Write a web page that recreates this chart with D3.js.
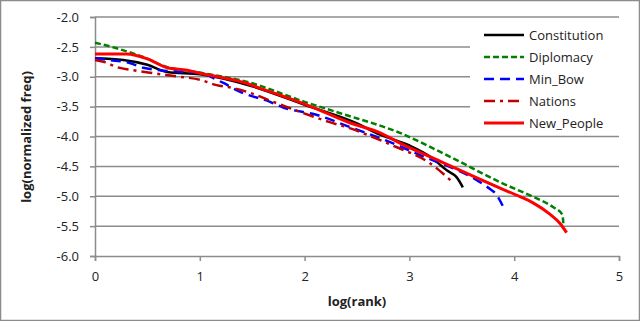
<!DOCTYPE html>
<html><head><meta charset="utf-8">
<script src="https://cdn.jsdelivr.net/npm/d3@7"></script>
<style>html,body{margin:0;padding:0;background:#fff}svg{display:block}</style>
</head><body>
<svg id="chart" width="640" height="321"></svg>
<script>
const seriesNames = ["Constitution","Diplomacy","Min_Bow","Nations","New_People"];
const constitutionX = [0,0.27,0.5,0.69,1.0,1.5,2.0,2.5,2.72,3.0,3.2,3.36,3.45,3.51];
const constitutionY = [-2.69,-2.72,-2.80,-2.92,-2.96,-3.16,-3.47,-3.78,-3.97,-4.15,-4.34,-4.57,-4.68,-4.85];
const diplomacyX = [0,0.2,0.46,0.69,1.0,1.48,2.0,2.34,2.91,3.4,3.86,4.18,4.37,4.46,4.47];
const diplomacyY = [-2.43,-2.52,-2.67,-2.84,-2.93,-3.10,-3.42,-3.61,-3.94,-4.35,-4.76,-5.01,-5.18,-5.31,-5.48];
const minBowX = [0,0.14,0.33,0.46,0.62,0.84,1.0,1.22,1.38,1.67,1.79,2.12,2.43,2.81,3.10,3.67,3.77,3.82,3.89];
const minBowY = [-2.69,-2.72,-2.77,-2.85,-2.89,-2.92,-2.94,-3.10,-3.25,-3.42,-3.51,-3.64,-3.84,-4.09,-4.31,-4.76,-4.88,-4.95,-5.16];
const nationsX = [0,0.1,0.21,0.36,0.55,0.81,1.0,1.16,1.32,1.48,1.70,1.96,2.24,2.43,2.65,2.88,3.19,3.41];
const nationsY = [-2.72,-2.76,-2.84,-2.89,-2.94,-3.00,-3.05,-3.14,-3.19,-3.27,-3.42,-3.59,-3.76,-3.86,-4.01,-4.18,-4.44,-4.76];
const newPeopleX = [0,0.3,0.5,0.69,0.88,1.0,1.2,1.43,1.57,1.67,2.02,2.43,2.72,2.91,3.3,3.86,4.06,4.18,4.34,4.44,4.50];
const newPeopleY = [-2.62,-2.62,-2.70,-2.85,-2.89,-2.94,-3.01,-3.10,-3.19,-3.25,-3.47,-3.77,-3.94,-4.11,-4.42,-4.86,-5.01,-5.11,-5.30,-5.46,-5.61];
const xTicks = [0,1,2,3,4,5];
const yTicks = [-2.0,-2.5,-3.0,-3.5,-4.0,-4.5,-5.0,-5.5,-6.0];

const seriesX = [constitutionX, diplomacyX, minBowX, nationsX, newPeopleX];
const seriesY = [constitutionY, diplomacyY, minBowY, nationsY, newPeopleY];
const colors = ["#000000","#008000","#0000FF","#C00000","#FF0000"];
const dashes = [null,"6,3","10,6","11,5,3,5",null];
const widths = [2.5,2.5,2.5,2.5,3];

const svg = d3.select("#chart");
const font = "'Open Sans', 'Liberation Sans', Arial, sans-serif";
svg.append("rect").attr("x",0.5).attr("y",0.5).attr("width",639).attr("height",320)
  .attr("fill","#fff").attr("stroke","#8c8c8c").attr("stroke-width",1.5);

const x = d3.scaleLinear().domain([0,5]).range([95,619]);
const y = d3.scaleLinear().domain([-6,-2]).range([256,17]);

// gridlines
svg.append("g").selectAll("line").data(yTicks.filter(t=>t!==-6)).join("line")
  .attr("x1",x(0)).attr("x2",x(5)).attr("y1",d=>y(d)).attr("y2",d=>y(d))
  .attr("stroke","#8c8c8c").attr("stroke-width",1.5);

// axes
const xAxis = svg.append("g").attr("transform",`translate(0,${y(-6)})`)
  .call(d3.axisBottom(x).tickValues(xTicks).tickFormat(d3.format("d")).tickSize(5).tickPadding(11));
const yAxis = svg.append("g").attr("transform",`translate(${x(0)},0)`)
  .call(d3.axisLeft(y).tickValues(yTicks).tickFormat(d3.format(".1f")).tickSize(5).tickPadding(11));
[xAxis,yAxis].forEach(g=>{
  g.select(".domain").attr("stroke","#8c8c8c").attr("stroke-width",1.5);
  g.selectAll(".tick line").attr("stroke","#8c8c8c").attr("stroke-width",1.5);
  g.selectAll("text").attr("font-family",font).attr("font-size",13).attr("fill","#222");
});
yAxis.selectAll("text").text(d=>d3.format(".1f")(d).replace("−","-"));

// legend background
svg.append("rect").attr("x",470).attr("y",22).attr("width",149).attr("height",110).attr("fill","#fff");

// lines
const line = d3.line().x(d=>x(d[0])).y(d=>y(d[1])).curve(d3.curveMonotoneX);
seriesNames.forEach((n,i)=>{
  const pts = seriesX[i].map((v,j)=>[v,seriesY[i][j]]);
  svg.append("path").datum(pts).attr("d",line).attr("fill","none")
    .attr("stroke",colors[i]).attr("stroke-width",widths[i])
    .attr("stroke-dasharray",dashes[i]);
});

// legend
const lg = svg.append("g");
seriesNames.forEach((n,i)=>{
  const yy = 35 + i*22;
  lg.append("line").attr("x1",484).attr("x2",524).attr("y1",yy).attr("y2",yy)
    .attr("stroke",colors[i]).attr("stroke-width",widths[i]).attr("stroke-dasharray",dashes[i]);
  lg.append("text").attr("x",529).attr("y",yy+4.5).text(n)
    .attr("font-family",font).attr("font-size",13).attr("fill","#222");
});

// titles
svg.append("text").attr("x",357).attr("y",306).attr("text-anchor","middle")
  .attr("font-family",font).attr("font-size",13).attr("font-weight","bold").attr("fill","#222").text("log(rank)");
svg.append("text").attr("transform","translate(31,137) rotate(-90)").attr("text-anchor","middle")
  .attr("font-family",font).attr("font-size",13).attr("font-weight","bold").attr("fill","#222").text("log(normalized freq)");
</script>
</body></html>
